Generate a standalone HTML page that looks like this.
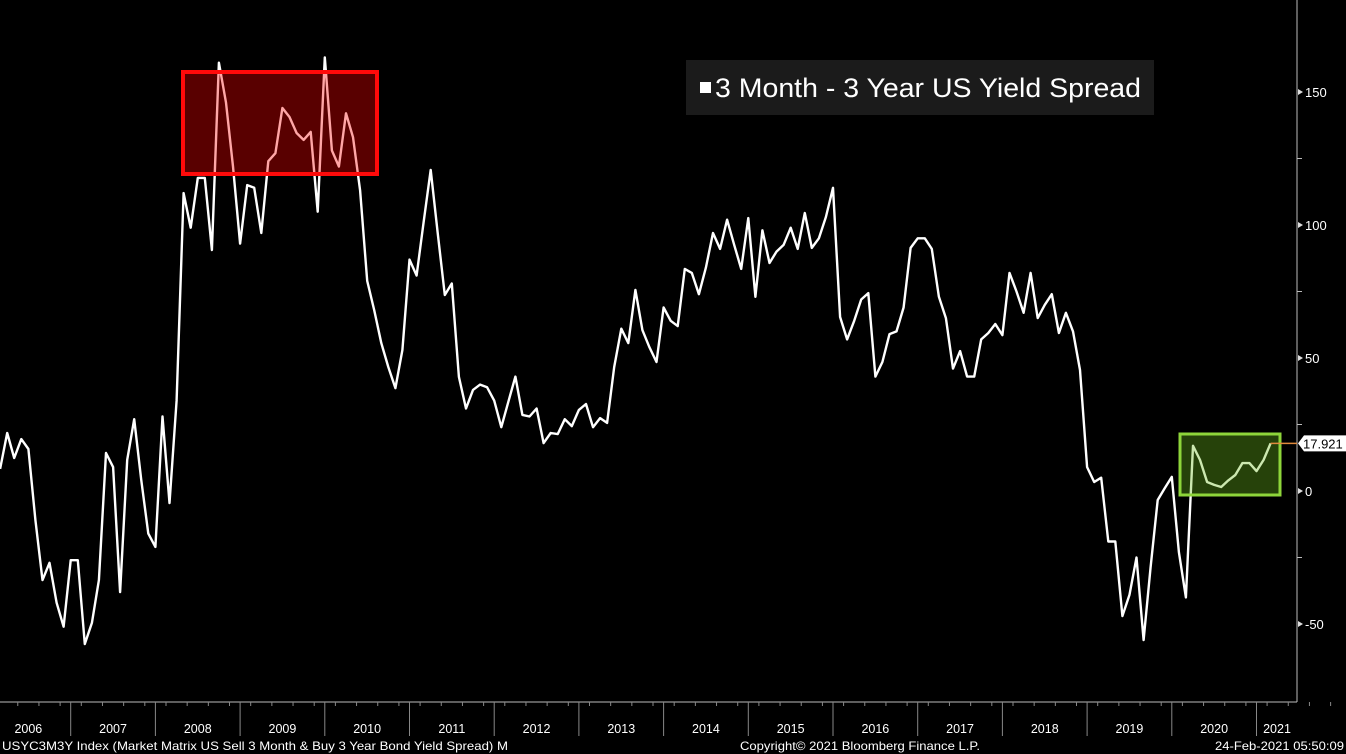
<!DOCTYPE html>
<html><head><meta charset="utf-8"><style>
html,body{margin:0;padding:0;background:#000;width:1346px;height:754px;overflow:hidden}
svg{display:block;font-family:"Liberation Sans",sans-serif}
</style></head><body>
<svg id="chart" width="1346" height="754">
<rect x="0" y="0" width="1346" height="754" fill="#000"/>
<g id="axes"></g>
<path id="line" fill="none" stroke="#fff" stroke-width="2.4" stroke-linejoin="round"/>
<rect x="183" y="72" width="194" height="102" fill="rgba(255,0,0,0.35)" stroke="#ff0a0a" stroke-width="4"/>
<rect x="1180" y="434" width="100" height="61" fill="rgba(110,190,30,0.35)" stroke="#8ed53a" stroke-width="3"/>
<g>
<rect x="686" y="60" width="468" height="55" fill="#1b1b1b"/>
<rect x="700" y="82" width="11" height="11" fill="#fff"/>
<text x="715" y="97" fill="#fff" font-size="27" textLength="426" lengthAdjust="spacingAndGlyphs">3 Month - 3 Year US Yield Spread</text>
</g>
<g id="last"></g>
<text x="2" y="750" fill="#fff" font-size="12" textLength="506" lengthAdjust="spacingAndGlyphs">USYC3M3Y Index (Market Matrix US Sell 3 Month &amp; Buy 3 Year Bond Yield Spread)  M</text>
<text x="740" y="750" fill="#fff" font-size="12" textLength="240" lengthAdjust="spacingAndGlyphs">Copyright© 2021 Bloomberg Finance L.P.</text>
<text x="1215" y="750" fill="#fff" font-size="12" textLength="129" lengthAdjust="spacingAndGlyphs">24-Feb-2021 05:50:09</text>
</svg>
<script>
// Monthly values, Feb 2006 .. Feb 2021 (basis points)
const startYear = 2006, startMonth = 2;
const values = [8.3,21.8,12.4,19.5,15.8,-10.9,-33.5,-27,-42,-51,-26,-26,
-57.5,-49.6,-33.5,14.3,9,-38,11.7,27,4,-16,-21,28,
-4.5,34,112,99,117.7,117.7,90.6,161,146,122,93,115,
114,97,124,127,144,140.6,134.6,132,135,105,163,128,
122,142,133,113,79,68,55.6,46.6,38.7,53,87,81,
101,120.7,97,73.7,78,42.9,31,38,40,39,34,24,
33.5,43,28.6,28,31,18,21.8,21.4,27,24.4,30.5,32.7,
24,27.4,25.6,46.6,61,55.6,75.6,60.5,54,48.5,69,64,
62,83.5,82,74,84,97,91,102,92.5,83.5,102.6,73,
98,85.7,90,92.5,99,91,104.5,91.4,95,103,114,65.4,
57,64,72,74.4,43,48.5,59,60,69,91.4,95,95,
91,73,65,46,52.6,43,43,57,59.4,62.8,58.6,82,
75,67,82,65,70,74,59.4,67,60,45.5,9,3.4,
5,-19,-19,-47,-39,-25,-56,-28.6,-3.4,1,5.3,-23,
-40,17,11.7,3.4,2.3,1.5,4,6,10.5,10.5,7.5,11.7,17.921];
const yTicks = [150,100,50,0,-50];
const yMinor = [125,75,25,-25];
const yearLabels = [2006,2007,2008,2009,2010,2011,2012,2013,2014,2015,2016,2017,2018,2019,2020,2021];

const yearW = 84.7, x0 = -14;
function xMonth(i){ return x0 + (i + startMonth) * yearW/12; }
function xYear(y){ return x0 + (y - startYear) * yearW; }
function yv(v){ return 491 - v * 2.66; }

const NS = "http://www.w3.org/2000/svg";
const axes = document.getElementById('axes');
function mk(tag, attrs, parent){ const e=document.createElementNS(NS,tag); for(const k in attrs) e.setAttribute(k,attrs[k]); (parent||axes).appendChild(e); return e; }

let ax = mk('line',{x1:1297,y1:0,x2:1297,y2:702,stroke:'#bbb','stroke-width':1});


let bx = mk('line',{x1:0,y1:702,x2:1297,y2:702,stroke:'#bbb','stroke-width':1});



yTicks.forEach(v=>{
  const y = yv(v);
  const t = mk('path',{d:`M1298 ${y-3} L1303 ${y} L1298 ${y+3} Z`,fill:'#ddd'});
  
  
  const l = mk('text',{x:1305,y:y+5,fill:'#fff','font-size':13});
  
  
  l.textContent = v;
});
yMinor.forEach(v=>{
  const y = yv(v);
  const t = mk('line',{x1:1297,y1:y,x2:1302,y2:y,stroke:'#bbb'});
  
  
});
yearLabels.forEach(yr=>{
  const xs = xYear(yr);
  if (yr>startYear){
    const s = mk('line',{x1:xs,y1:702,x2:xs,y2:736,stroke:'#888'});
    
    
  }
  for(let m=1;m<12;m+=3){
    const mx = xs + m*yearW/12 + yearW/24;
    const tk = mk('line',{x1:mx,y1:702,x2:mx,y2:706,stroke:'#888'});
    
    
  }
  const l = mk('text',{x:Math.min(xs+yearW/2, 1277),y:733,fill:'#fff','font-size':12.5,'text-anchor':'middle'});
  
  
  l.textContent = yr;
});

let d = '';
values.forEach((v,i)=>{ d += (i?'L':'M') + xMonth(i).toFixed(1) + ' ' + yv(v).toFixed(1) + ' '; });
document.getElementById('line').setAttribute('d', d);

const last = values[values.length-1];
const lx = xMonth(values.length-1), ly = yv(last);
const g = document.getElementById('last');
const ol = mk('line',{x1:lx,y1:ly,x2:1297,y2:ly,stroke:'#e08a3c','stroke-width':1.5},g);


const tag = mk('path',{d:`M1298 ${ly} L1304 ${ly-8} L1346 ${ly-8} L1346 ${ly+8} L1304 ${ly+8} Z`,fill:'#fff'},g);


const tt = mk('text',{x:1303,y:ly+5,fill:'#000','font-size':13},g);


tt.textContent = last.toFixed(3);
</script>
</body></html>
